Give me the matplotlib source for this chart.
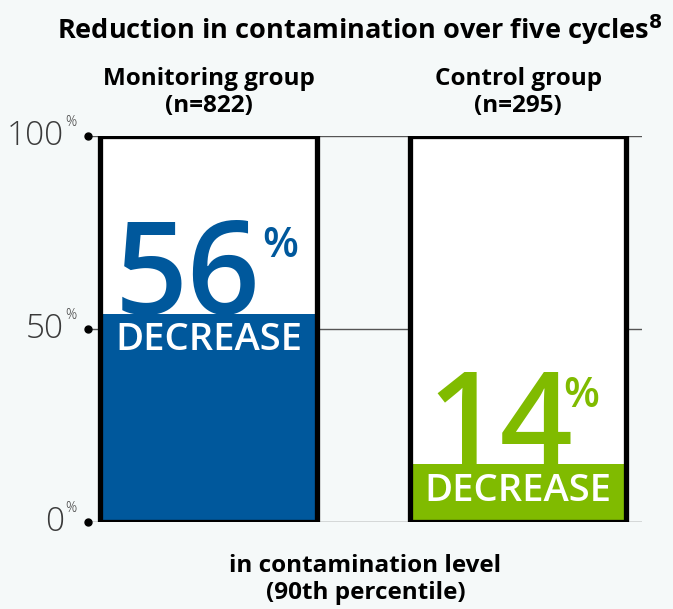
import matplotlib
matplotlib.use("Agg")
import matplotlib.pyplot as plt

groups = ["Monitoring group\n(n=822)", "Control group\n(n=295)"]
decrease = [56, 14]          # label values, %
fill_level = [54, 15]        # height of the coloured fill, %
colors = ["#00589c", "#80bb00"]
yticks = [0, 50, 100]

plt.rcParams["font.family"] = ["Open Sans", "DejaVu Sans"]
bg = "#f5f9f9"

fig = plt.figure(figsize=(6.73, 6.09), dpi=100, facecolor=bg)
ax = fig.add_axes([0.1308, 0.1429, 0.823, 0.6338], facecolor=bg)

x = range(len(groups))
w = 0.70
ax.set_xlim(-0.389, 1.40)
ax.set_ylim(0, 100)

# grid lines with dot ticks
for t in yticks:
    ax.axhline(t, color="#555555", lw=1.0, zorder=0)
    ax.plot(-0.389, t, "o", color="black", ms=5, clip_on=False, zorder=5)
    ax.text(-0.467, t, str(t), ha="right", va="center", fontsize=24,
            fontweight="light", color="#3a3a3a")
    ax.text(-0.462, t + 1.5, "%", ha="left", va="bottom", fontsize=10,
            fontweight="light", color="#3a3a3a")

ax.bar(x, 100, w, color="white", zorder=1)
ax.bar(x, fill_level, w, color=colors, zorder=2)
ax.bar(x, 100, w, color="none", edgecolor="black", lw=3.8, zorder=4)

num_dx = [-0.066, -0.058]
pct_dx = [0.173, 0.145]
for i in x:
    ax.text(i + num_dx[i], fill_level[i], str(decrease[i]), ha="center",
            va="baseline", fontsize=92, fontweight="semibold",
            color=colors[i], zorder=3)
    ax.text(i + pct_dx[i], fill_level[i] + 23, "%", ha="left", va="top",
            fontsize=30, fontweight="semibold", color=colors[i], zorder=3)
    ax.text(i, fill_level[i] - 9.5, "DECREASE", ha="center", va="baseline",
            fontsize=27.5, fontweight="semibold", color="white", zorder=3)
    ax.text(i, 111.3, groups[i], ha="center", va="center", fontsize=17.5,
            fontweight="bold", linespacing=1.2)

for s in ax.spines.values():
    s.set_visible(False)
ax.set_xticks([])
ax.set_yticks([])

fig.text(0.535, 0.951, "Reduction in contamination over five cycles$^{\\mathbf{8}}$",
         ha="center", va="center", fontsize=19.5, fontweight="bold")
fig.text(0.543, 0.0484, "in contamination level\n(90th percentile)", ha="center",
         va="center", fontsize=17.5, fontweight="bold", linespacing=1.2)

fig.savefig("out.png", dpi=100, facecolor=bg)
